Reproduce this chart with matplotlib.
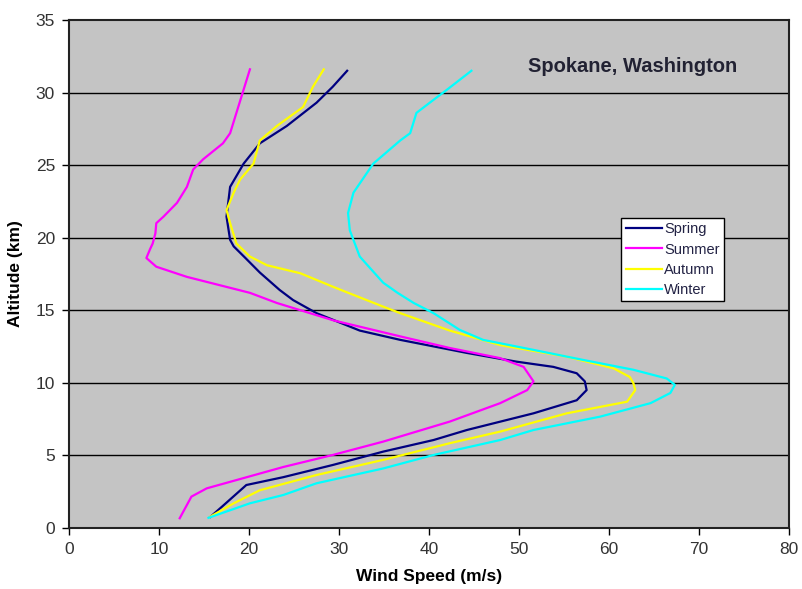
import matplotlib.pyplot as plt

plt.rcParams['font.family'] = ['Liberation Sans', 'DejaVu Sans']

# altitude (km) vs wind speed (m/s)
spring_alt = [0.76, 1.47, 2.96, 3.5, 4.34, 5.26, 6.06, 6.75, 7.9, 8.8, 9.5, 10.1, 10.66,
              11.1, 11.46, 12.06, 12.96, 13.6, 14.8, 15.7, 16.4, 17.6, 18.6, 19.4, 19.85,
              21.45, 23.5, 25.1, 26.5, 27.7, 29.3, 30.4, 31.5]
spring_ws = [15.7, 17.0, 19.7, 23.8, 29.3, 34.9, 40.5, 44.2, 51.6, 56.4, 57.5, 57.3, 56.4,
             53.8, 49.7, 44.2, 36.8, 32.3, 27.5, 24.9, 23.4, 21.2, 19.6, 18.3, 17.9,
             17.5, 17.9, 19.4, 21.2, 24.2, 27.5, 29.3, 30.9]

summer_alt = [0.67, 1.7, 2.16, 2.73, 4.2, 5.03, 5.95, 7.33, 8.6, 9.5, 10.1, 11.1, 11.7,
              12.4, 13.2, 14.3, 15.5, 16.2, 17.3, 18.0, 18.6, 19.2, 19.6, 20.3, 21.0,
              21.45, 22.4, 23.5, 24.7, 25.4, 26.5, 27.2, 28.6, 30.2, 31.6]
summer_ws = [12.3, 13.2, 13.6, 15.3, 23.8, 29.3, 34.9, 42.3, 47.9, 50.9, 51.6, 50.5, 47.9,
             42.3, 36.8, 29.4, 23.1, 20.1, 13.1, 9.7, 8.6, 9.0, 9.3, 9.6, 9.7,
             10.5, 12.0, 13.1, 13.8, 14.9, 17.1, 17.9, 18.6, 19.4, 20.1]

autumn_alt = [0.78, 1.7, 2.6, 3.65, 4.69, 5.84, 6.64, 7.9, 8.7, 9.5, 9.97, 10.4, 11.0,
              11.8, 12.6, 13.6, 14.8, 15.25, 16.6, 17.55, 18.1, 18.7, 19.6, 21.0, 21.9,
              23.1, 24.0, 25.1, 26.7, 27.7, 29.0, 30.4, 31.6]
autumn_ws = [15.7, 18.3, 21.2, 27.5, 34.9, 42.3, 47.9, 55.3, 62.0, 62.9, 62.7, 62.3, 60.5,
             55.3, 47.9, 42.3, 36.8, 34.9, 29.4, 25.7, 22.0, 20.1, 18.6, 17.9, 17.5,
             18.3, 19.0, 20.5, 21.2, 23.1, 26.0, 27.1, 28.3]

winter_alt = [0.7, 1.7, 2.27, 3.08, 4.1, 5.03, 6.06, 6.75, 7.67, 8.6, 9.3, 9.86, 10.3,
              10.9, 11.58, 12.27, 12.96, 13.65, 14.8, 15.5, 16.2, 16.9, 18.7, 20.5, 21.7,
              23.1, 25.1, 26.7, 27.2, 28.6, 29.5, 30.2, 31.5]
winter_ws = [15.5, 20.1, 23.8, 27.5, 34.9, 40.5, 47.9, 51.6, 59.0, 64.6, 66.8, 67.3, 66.4,
             62.7, 57.1, 51.6, 46.0, 43.4, 40.5, 38.3, 36.5, 34.9, 32.3, 31.2, 31.0,
             31.6, 33.8, 36.8, 37.9, 38.6, 40.5, 42.0, 44.7]

fig = plt.figure(figsize=(8.02, 5.89), dpi=100)
ax = fig.add_axes([0.086, 0.1036, 0.898, 0.8625])
ax.set_facecolor('#c4c4c4')

ax.plot(spring_ws, spring_alt, color='#000080', lw=1.6, label='Spring')
ax.plot(summer_ws, summer_alt, color='#ff00ff', lw=1.6, label='Summer')
ax.plot(autumn_ws, autumn_alt, color='#ffff00', lw=1.6, label='Autumn')
ax.plot(winter_ws, winter_alt, color='#00ffff', lw=1.6, label='Winter')

ax.set_xlim(0, 80)
ax.set_ylim(0, 35)
ax.set_xticks(range(0, 81, 10))
ax.set_yticks(range(0, 36, 5))
for y in range(5, 35, 5):
    ax.axhline(y, color='black', lw=1, zorder=1)

ax.tick_params(direction='out', length=5, width=1, labelsize=12.5, labelcolor='#333333', pad=5)
for s in ax.spines.values():
    s.set_color('#222222')
    s.set_linewidth(1.5)

ax.set_xlabel('Wind Speed (m/s)', fontsize=12.5, fontweight='bold', labelpad=9)
ax.set_ylabel('Altitude (km)', fontsize=12.5, fontweight='bold', labelpad=9)

ax.text(51.0, 31.8, 'Spokane, Washington', fontsize=14.5, fontweight='bold',
        color='#222233', va='center')

leg = ax.legend(loc='upper left', bbox_to_anchor=(0.767, 0.610), fontsize=10.5,
                fancybox=False, framealpha=1, edgecolor='black', borderpad=0.3,
                handlelength=2.5, handletextpad=0.15, labelspacing=0.42,
                borderaxespad=0)
leg.get_frame().set_linewidth(1)
for t in leg.get_texts():
    t.set_color('#222244')

fig.savefig('out.png', dpi=100)
